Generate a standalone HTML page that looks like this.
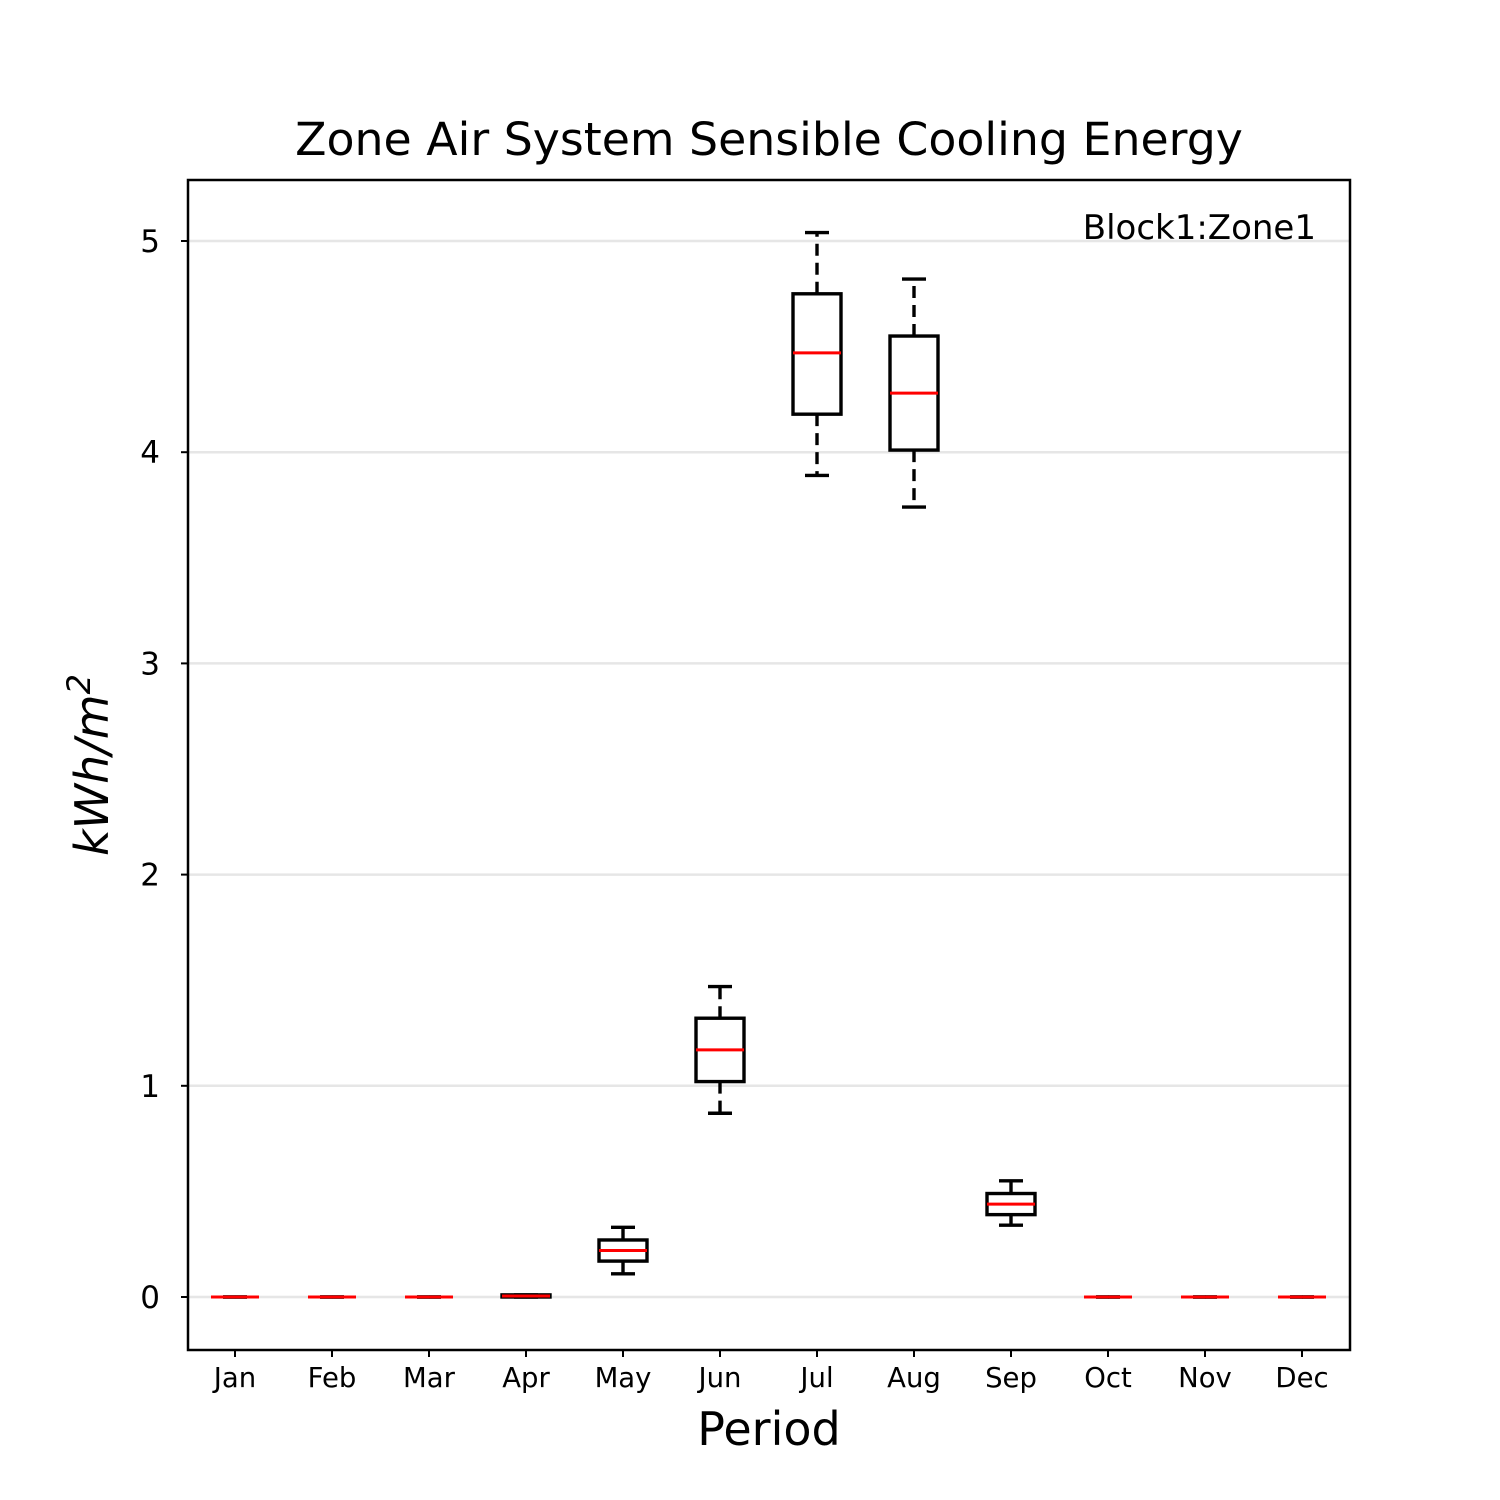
<!DOCTYPE html>
<html><head><meta charset="utf-8"><style>html,body{margin:0;padding:0;background:#fff}svg{display:block}</style></head>
<body>
<svg id="chart" width="1500" height="1500" viewBox="0 0 1500 1500" xmlns="http://www.w3.org/2000/svg" font-family="DejaVu Sans, Liberation Sans, sans-serif">
<rect width="1500" height="1500" fill="#fff"/>
<g id="grid"></g>
<g id="boxes"></g>
<rect x="188" y="180" width="1162" height="1170" fill="none" stroke="#000" stroke-width="2.5"/>
<g id="axes"></g>
<text x="769" y="155" font-size="45.8" text-anchor="middle">Zone Air System Sensible Cooling Energy</text>
<text x="1316" y="239" font-size="34" text-anchor="end">Block1:Zone1</text>
<text x="769" y="1445" font-size="46" text-anchor="middle">Period</text>
<text transform="translate(108,765) rotate(-90)" font-size="46" font-style="italic" text-anchor="middle">kWh/m<tspan font-size="32" dy="-18">2</tspan></text>
<script>
const categories=["Jan","Feb","Mar","Apr","May","Jun","Jul","Aug","Sep","Oct","Nov","Dec"];
const whisLo=[0,0,0,0,0.11,0.87,3.89,3.74,0.34,0,0,0];
const q1=[0,0,0,0,0.17,1.02,4.18,4.01,0.39,0,0,0];
const medians=[0,0,0,0.005,0.22,1.17,4.47,4.28,0.44,0,0,0];
const q3=[0,0,0,0.01,0.27,1.32,4.75,4.55,0.49,0,0,0];
const whisHi=[0,0,0,0.01,0.33,1.47,5.04,4.82,0.55,0,0,0];
const yTicks=[0,1,2,3,4,5];
const NS="http://www.w3.org/2000/svg";
const y=v=>1297-v*211.2;
const x=i=>235+i*97.0;
function mk(tag,attrs,parent){const e=document.createElementNS(NS,tag);for(const k in attrs)e.setAttribute(k,attrs[k]);parent.appendChild(e);return e;}
const grid=document.getElementById('grid'),axes=document.getElementById('axes'),boxes=document.getElementById('boxes');
yTicks.forEach(t=>{
  const g=mk('line',{x1:188,x2:1350,y1:y(t),y2:y(t),stroke:'#e6e6e6','stroke-width':2.5},grid);
  
  
  const tk=mk('line',{x1:181,x2:188,y1:y(t),y2:y(t),stroke:'#000','stroke-width':2},axes);
  
  
  const tl=mk('text',{x:160,y:y(t)+11,'font-size':31,'text-anchor':'end'},axes);
  
  
  tl.textContent=t;
});
categories.forEach((c,i)=>{
  const cx=x(i);
  const tk=mk('line',{x1:cx,x2:cx,y1:1350,y2:1357,stroke:'#000','stroke-width':2},axes);
  
  
  const tl=mk('text',{x:cx,y:1387,'font-size':27.5,'text-anchor':'middle'},axes);
  
  
  tl.textContent=c;
  const g=mk('g',{},boxes);
  
  
  const st={stroke:'#000','stroke-width':3.4,fill:'none'};
  mk('line',Object.assign({x1:cx,x2:cx,y1:y(q1[i]),y2:y(whisLo[i]),'stroke-dasharray':'12,7'},st),g);
  mk('line',Object.assign({x1:cx,x2:cx,y1:y(q3[i]),y2:y(whisHi[i]),'stroke-dasharray':'12,7'},st),g);
  mk('line',Object.assign({x1:cx-12,x2:cx+12,y1:y(whisLo[i]),y2:y(whisLo[i])},st),g);
  mk('line',Object.assign({x1:cx-12,x2:cx+12,y1:y(whisHi[i]),y2:y(whisHi[i])},st),g);
  mk('rect',Object.assign({x:cx-24,y:y(q3[i]),width:48,height:Math.max(0,y(q1[i])-y(q3[i]))},st),g);
  mk('line',{x1:cx-24,x2:cx+24,y1:y(medians[i]),y2:y(medians[i]),stroke:'#ff0000','stroke-width':3},g);
});
</script>
</svg>
</body></html>
